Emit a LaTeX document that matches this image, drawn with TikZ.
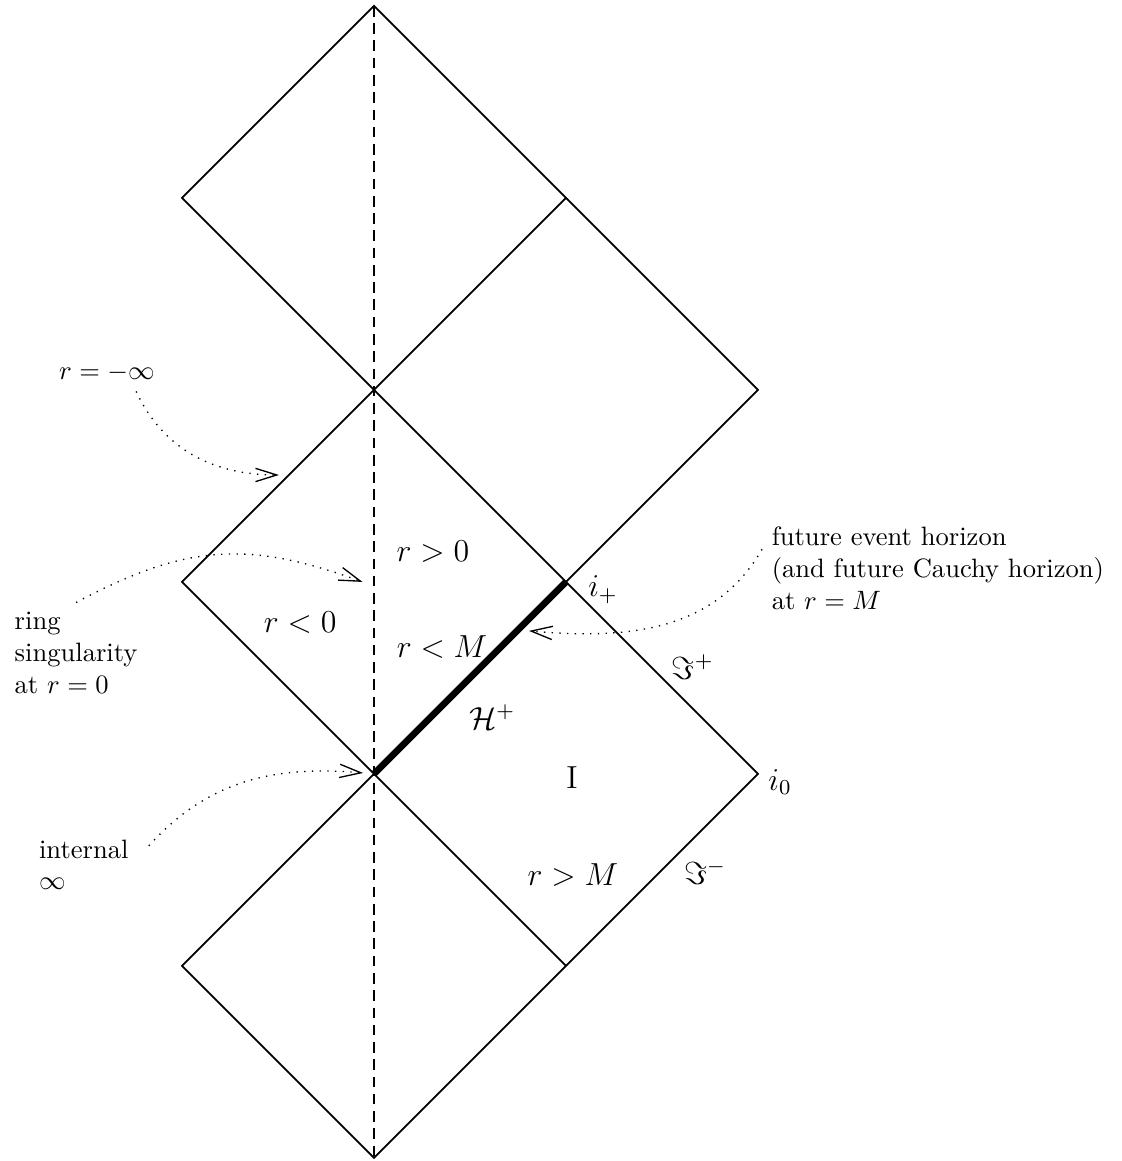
\documentclass[tikz,border=0pt]{standalone}
\usepackage{amsmath}
\usepackage{amssymb}
\usetikzlibrary{arrows.meta}

\begin{document}
\begin{tikzpicture}[x=1in, y=1in, line width=0.65pt,
    pointer/.style={line width=0.5pt, dash pattern=on 0.5pt off 2.4pt, -{Straight Barb[length=8pt, width=5pt, line width=0.5pt]}},
    note/.style={align=left, anchor=west},
    region/.style={font=\large}]
    \useasboundingbox (-1.948,-2.016) rectangle (3.891,4.031);

    % Corners of the diagram
    \coordinate (top) at (0,4);
    \coordinate (topL) at (-1,3);
    \coordinate (topR) at (1,3);
    \coordinate (upper) at (0,2);
    \coordinate (farR) at (2,2);
    \coordinate (midL) at (-1,1);
    \coordinate (iplusPt) at (1,1);
    \coordinate (lower) at (0,0);
    \coordinate (izeroPt) at (2,0);
    \coordinate (botL) at (-1,-1);
    \coordinate (botR) at (1,-1);
    \coordinate (bottom) at (0,-2);

    % Axis r = 0
    \draw[dash pattern=on 4pt off 2.5pt, line width=0.6pt] (top) -- (bottom);

    % Outline
    \draw (top) -- (topR) -- (farR) -- (iplusPt) -- (izeroPt) -- (botR) -- (bottom) -- (botL) -- (lower) -- (midL) -- (upper) -- (topL) -- cycle;
    % Inner lines
    \draw (topR) -- (upper) -- (iplusPt);
    \draw (lower) -- (botR);

    % Horizon
    \draw[line width=2.5pt] (lower) -- (iplusPt);

    % Region labels
    \node[region] (rpos) at (0.307,1.156) {$r > 0$};
    \node[region] (rneg) at (-0.385,0.786) {$r < 0$};
    \node[region] (rinside) at (0.354,0.661) {$r < M$};
    \node[region] (horizon) at (0.615,0.297) {$\mathcal{H}^+$};
    \node[region] (regionI) at (1.031,-0.021) {I};
    \node[region] (routside) at (1.036,-0.526) {$r > M$};
    \node[region] (iplus) at (1.193,0.958) {$i_+$};
    \node[region] (izero) at (2.115,-0.042) {$i_0$};
    \node[region] (scriplus) at (1.661,0.557) {$\Im^+$};
    \node[region] (scriminus) at (1.724,-0.510) {$\Im^-$};

    % Notes
    \node (minusinf) at (-1.391,2.089) {$r = -\infty$};
    \node[note] (ring) at (-1.922,0.630) {ring\\singularity\\at $r = 0$};
    \node[note] (internal) at (-1.795,-0.473) {internal\\$\infty$};
    \node[note] (future) at (2.021,1.073) {future event horizon\\(and future Cauchy horizon)\\at $r = M$};

    % Pointers
    \coordinate (minusinfTip) at (-0.495,1.557);
    \coordinate (ringTip) at (-0.060,1.000);
    \coordinate (futureTip) at (0.807,0.745);
    \coordinate (internalTip) at (-0.057,0.005);
    \draw[pointer] ([xshift=11pt]minusinf.south) to[out=-65, in=180] (minusinfTip);
    \draw[pointer] (ring.north) to[out=28, in=160, looseness=1.1] (ringTip);
    \draw[pointer] ([yshift=7pt]future.west) to[out=-120, in=-5] (futureTip);
    \draw[pointer] ([xshift=4pt, yshift=-6pt]internal.north east) to[out=48, in=175] (internalTip);
\end{tikzpicture}
\end{document}
